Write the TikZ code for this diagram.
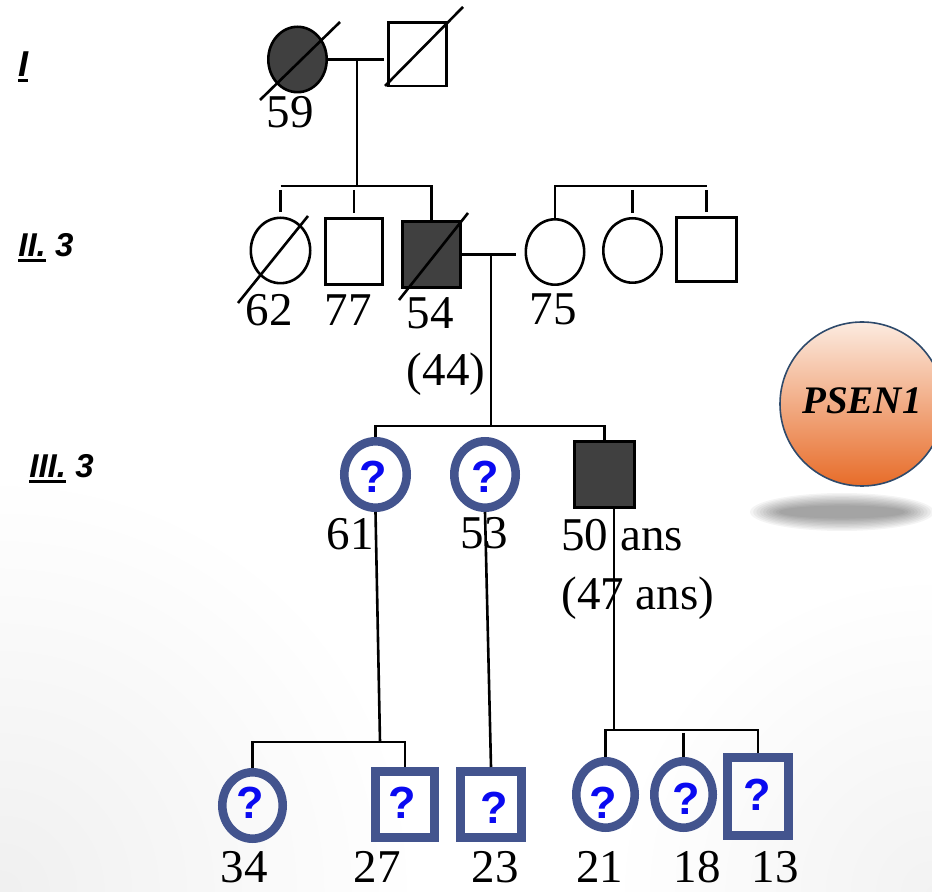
\documentclass[tikz,border=0pt]{standalone}
\usepackage{fontspec}
\setmainfont{Liberation Serif}
\newfontfamily\gensans{Liberation Sans}
\usetikzlibrary{shapes.geometric,calc}

\definecolor{affect}{HTML}{404040}
\definecolor{ringblue}{HTML}{43548E}
\definecolor{qblue}{HTML}{0A0AF0}
\definecolor{ballrim}{HTML}{2E4A6B}
\definecolor{balltop}{HTML}{FCEBE0}
\definecolor{ballbot}{HTML}{E76C29}

% underlined generation numeral with a heavy rule
\newcommand\genul[1]{\setbox0\hbox{#1}\rlap{\rule[-2.3pt]{\wd0}{1.3pt}}\box0}

\begin{document}
\begin{tikzpicture}[x=0.5pt,y=-0.5pt,
  link/.style={line width=1.3pt},
  fem/.style={ellipse, draw, line width=1.3pt, inner sep=0pt},
  mal/.style={rectangle, draw, line width=1.3pt, inner sep=0pt},
  aff/.style={fill=affect},
  ring/.style={draw=ringblue, line width=4.3pt},
  age/.style={font=\fontsize{23.5}{28}\selectfont, anchor=base, inner sep=0pt},
  agel/.style={age, anchor=base west},
  qm/.style={text=qblue, font=\gensans\bfseries\fontsize{22.5}{26}\selectfont, inner sep=0pt},
  gen/.style={font=\gensans\bfseries\itshape\fontsize{16.5}{20}\selectfont, anchor=base west, inner sep=0pt},
]
\useasboundingbox (0,0) rectangle (932,892);
\clip (0,0) rectangle (932,892);

% soft grey fades in the lower corners
\shade[inner color=black!6, outer color=white] (0,892) circle [radius=210pt];
\shade[inner color=black!5, outer color=white] (932,892) circle [radius=160pt];

% ---------------- generation I
\node[fem, aff, minimum width=29.2pt, minimum height=32.7pt] (I1) at (297.5,59.5) {};
\node[mal, minimum width=29.2pt, minimum height=31.7pt] (I2) at (417.5,54.5) {};
\draw[link] ($(I1.center)+(-37.5,40.5)$) -- ($(I1.center)+(42.5,-37.5)$);
\draw[link] ($(I2.center)+(-32.5,31.5)$) -- ($(I2.center)+(45.5,-47.5)$);
\node[age] (a59) at (290,128) {59};

\draw[link, shorten >=1.5pt] (I1.east) -- (I1.east -| I2.west);
\coordinate (mI) at (357,59.5);
\coordinate (sI) at (357,186);
\draw[link] (mI) -- (sI);

% ---------------- generation II
\node[fem, minimum width=29.7pt, minimum height=32.7pt] (II1) at (280.5,250.5) {};
\node[mal, minimum width=28.7pt, minimum height=33.2pt] (II2) at (354,251.5) {};
\node[mal, aff, minimum width=29.2pt, minimum height=33.2pt] (II3) at (431.5,254.5) {};
\node[fem, minimum width=29.2pt, minimum height=32.7pt] (II4) at (555,252) {};
\node[fem, minimum width=29.2pt, minimum height=32.2pt] (II5) at (632.5,250.5) {};
\node[mal, minimum width=30.2pt, minimum height=32.2pt] (II6) at (706.5,249.5) {};
\draw[link] ($(II1.center)+(-42.5,52.5)$) -- ($(II1.center)+(27.5,-34.5)$);
\draw[link] ($(II3.center)+(-32.5,45.5)$) -- ($(II3.center)+(36.5,-41.5)$);

% sibship of I1 x I2
\draw[link] (II1.north |- sI) -- (II3.north |- sI) -- (II3.north);
\draw[link, shorten <=2pt, shorten >=2pt] (II1.north |- sI) -- (II1.north);
\draw[link, shorten <=2pt, shorten >=2pt] (II2.north |- sI) -- (II2.north);

% sibship of the spouse
\coordinate (sIIr) at (632,186);
\draw[link] (II4.north) -- (II4.north |- sIIr) -- (II6.north |- sIIr);
\draw[link, shorten <=2pt, shorten >=2pt] (II5.north |- sIIr) -- (II5.north);
\draw[link, shorten <=2pt, shorten >=2pt] (II6.north |- sIIr) -- (II6.north);

% marriage II3 x II4
\draw[link, shorten >=4.5pt] (II3.east) -- (II3.east -| II4.west);
\coordinate (mII) at (491,254.5);
\coordinate (sII) at (491,426);
\draw[link] (mII) -- (sII);

\node[age] (a62) at (269,326) {62};
\node[age] (a77) at (348,326) {77};
\node[age] (a54) at (430,329) {54};
\node[age] (a75) at (553,325) {75};
\node[age] (a44) at (446,386) {(44)};

% ---------------- generation III
\node[fem, ring, minimum width=31.2pt, minimum height=33.2pt] (III1) at (375.5,474.5) {};
\node[fem, ring, minimum width=30.7pt, minimum height=33.2pt] (III2) at (485,474.5) {};
\node[mal, aff, minimum width=30.2pt, minimum height=33.2pt] (III3) at (604.5,474.5) {};
\node[qm] (q1) at (373,477) {?};
\node[qm] (q2) at (485,477) {?};

\draw[link] (III1.north) -- (III1.north |- sII) -- (III3.north |- sII) -- (III3.north);

\node[age] (a61) at (350,550) {61};
\node[age] (a53) at (484,549) {53};
\node[agel] (a50) at (561,551) {50 ans};
\node[agel] (a47) at (561,610) {(47 ans)};

% lines of descent
\coordinate (sIIIa) at (380,742);
\coordinate (sIIIb) at (614,730);
\draw[link] (III1.south) -- (sIIIa);
\draw[link] (III3.south -| sIIIb) -- (sIIIb);

% ---------------- generation IV
\node[fem, ring, minimum width=30.2pt, minimum height=33.2pt] (IV1) at (252.5,805.5) {};
\node[mal, ring, line width=4.5pt, minimum width=29.5pt, minimum height=33pt] (IV2) at (405,804.5) {};
\node[mal, ring, line width=4.5pt, minimum width=30.5pt, minimum height=33pt] (IV3) at (491,804.5) {};
\node[fem, ring, minimum width=29.2pt, minimum height=33.2pt] (IV4) at (605.5,794.5) {};
\node[fem, ring, minimum width=29.2pt, minimum height=33.2pt] (IV5) at (683.5,794.5) {};
\node[mal, ring, line width=4.5pt, minimum width=30.5pt, minimum height=39pt] (IV6) at (758,796.5) {};
\node[qm] (q3) at (250,803) {?};
\node[qm] (q4) at (402,803) {?};
\node[qm] (q5) at (494,808) {?};
\node[qm] (q6) at (603,803) {?};
\node[qm] (q7) at (686,799) {?};
\node[qm] (q8) at (757,795) {?};

\draw[link] (IV1.north) -- (IV1.north |- sIIIa) -- (IV2.north |- sIIIa) -- (IV2.north);
\draw[link] (III2.south) -- (IV3.north);
\draw[link] (IV4.north) -- (IV4.north |- sIIIb) -- (IV6.north |- sIIIb) -- (IV6.north);
\draw[link, shorten <=1.5pt] (IV5.north |- sIIIb) -- (IV5.north);

\node[age] (a34) at (244,882) {34};
\node[age] (a27) at (377,882) {27};
\node[age] (a23) at (495,882) {23};
\node[age] (a21) at (599.5,882) {21};
\node[age] (a18) at (697,882) {18};
\node[age] (a13) at (775,882) {13};

% ---------------- generation labels
\node[gen, font=\gensans\bfseries\itshape\fontsize{18}{20}\selectfont] (gI) at (18,77) {\genul{I}};
\node[gen] (gII) at (18,257) {\genul{II.}\hspace{0.28em}3};
\node[gen] (gIII) at (29,478) {\genul{III.}\hspace{0.28em}3};

% ---------------- gene badge with its shadow
\foreach \i in {0,...,9}
  \fill[black, opacity=0.045] (842,512) ellipse [x radius={46pt-1.6pt*\i}, y radius={9.5pt-0.7pt*\i}];
\node[circle, draw=ballrim, line width=0.8pt, top color=balltop, bottom color=ballbot,
      minimum size=82pt, inner sep=0pt,
      font=\bfseries\itshape\fontsize{19.5}{22}\selectfont] (psen) at (862,404) {\raisebox{3pt}{PSEN1}};
\end{tikzpicture}
\end{document}
